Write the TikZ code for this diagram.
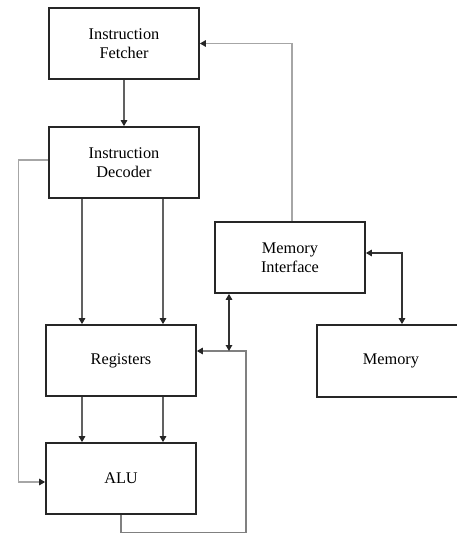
\documentclass[tikz,border=0pt]{standalone}
\usepackage{fontspec}
\setmainfont{Liberation Serif}
\usetikzlibrary{arrows.meta}
\begin{document}
\begin{tikzpicture}[x=1pt,y=-1pt,
  block/.style={draw=black!85,line width=1.7pt,rectangle,minimum width=150pt,
    minimum height=71pt,align=center,font=\fontsize{16.3}{19.5}\selectfont,inner sep=0pt},
  head/.tip={Triangle[length=6pt,width=6.5pt,color=black!85]},
  conn/.style={line width=1.3pt},
  darkarr/.style={conn,-head,draw=black!62},
  lightarr/.style={conn,-head,draw=black!35},
  loopline/.style={conn,-head,draw=black!50},
  bothway/.style={conn,head-head,draw=black!80}]
\useasboundingbox (0,0) rectangle (457,533);
\fill[white] (0,0) rectangle (457,533);

% processing column
\node[block] (fet) at (124,43.5) {Instruction\\Fetcher};
\node[block] (dec) at (124,162.5) {Instruction\\Decoder};
\node[block] (reg) at (121,360.5) {Registers};
\node[block] (alu) at (121,478.5) {ALU};

% memory side
\node[block] (mi) at (290,257.5) {Memory\\Interface};
\node[block,minimum width=148pt,minimum height=72pt] (mem) at (391,361) {Memory};

\coordinate (loop) at (246,351);

% fetch -> decode
\draw[darkarr] (fet.south) -- (dec.north);

% decode -> registers
\draw[darkarr] ([xshift=-42pt]dec.south) -- ([xshift=-42pt]dec.south |- reg.north);
\draw[darkarr] ([xshift=39pt]dec.south) -- ([xshift=39pt]dec.south |- reg.north);

% decode -> ALU (control path)
\draw[lightarr] ([yshift=2.5pt]dec.west) -- ++(-30,0) |- ([yshift=-3.5pt]alu.west);

% registers -> ALU
\draw[darkarr] ([xshift=-39pt]reg.south) -- ([xshift=-39pt]alu.north);
\draw[darkarr] ([xshift=42pt]reg.south) -- ([xshift=42pt]alu.north);

% ALU result written back to registers
\draw[loopline] (alu.south) -- ++(0,18) -| (loop) -- ([yshift=9.5pt]reg.east);

% memory interface <-> register path
\draw[bothway] ([xshift=-61pt]mi.south) -- ([xshift=-61pt]mi.south |- loop);

% memory interface -> fetcher
\draw[lightarr] ([xshift=2pt]mi.north) |- (fet.east);

% memory interface <-> memory
\draw[bothway] ([yshift=4.5pt]mi.east) -| ([xshift=11pt]mem.north);
\end{tikzpicture}
\end{document}
